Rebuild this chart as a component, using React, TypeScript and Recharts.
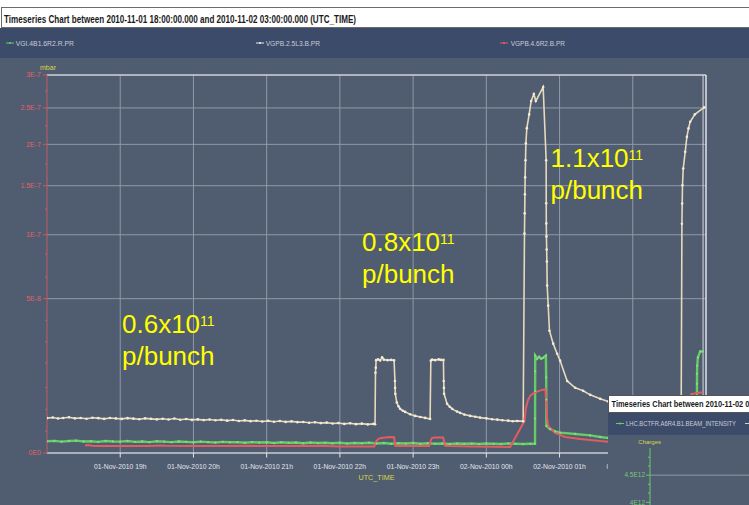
import React from 'react';
import { LineChart, Line, XAxis, YAxis, CartesianGrid, ReferenceLine } from 'recharts';

const FONT = '"Liberation Sans", Arial, sans-serif';
const SLATE = '#505c70';
const BAND = '#3d4b6a';
const CREAM = '#e6dabd';
const CREAM_DOT = '#f2ead6';
const GREEN = '#66cc66';
const RED = '#e25c62';
const AXIS_RED = '#c45a66';
const LABEL_RED = '#e2606a';
const YELLOW = '#ffff00';
const AXIS_YELLOW = '#d6d84a';
const GRID = '#8f99a9';

// ---- series names ----
const seriesNames = ['VGI.4B1.6R2.R.PR', 'VGPB.2.5L3.B.PR', 'VGPB.4.6R2.B.PR'];

// ---- data: [hour since 2010-11-01 00:00, pressure in 1e-9 mbar] ----
const vgpb25Points: [number, number][] = [
  [18.0, 2.56], [18.08, 2.64], [18.15, 2.5], [18.22, 2.58], [18.3, 2.68], [18.38, 2.52], [18.46, 2.57],
  [18.54, 2.47], [18.62, 2.6], [18.7, 2.55], [18.78, 2.45], [18.86, 2.58], [18.94, 2.51], [19.02, 2.44],
  [19.1, 2.55], [19.18, 2.48], [19.26, 2.4], [19.34, 2.52], [19.42, 2.45], [19.5, 2.38], [19.58, 2.47],
  [19.66, 2.36], [19.74, 2.5], [19.82, 2.33], [19.9, 2.42], [19.98, 2.3], [20.06, 2.37], [20.14, 2.27],
  [20.22, 2.35], [20.3, 2.25], [20.38, 2.31], [20.46, 2.2], [20.54, 2.28], [20.62, 2.16], [20.7, 2.24],
  [20.78, 2.13], [20.86, 2.19], [20.94, 2.09], [21.02, 2.17], [21.1, 2.06], [21.18, 2.14], [21.26, 2.03],
  [21.34, 2.1], [21.42, 2.0], [21.5, 2.02], [21.58, 1.93], [21.66, 1.99], [21.74, 1.88], [21.82, 1.94],
  [21.9, 1.83], [21.98, 1.88], [22.06, 1.78], [22.14, 1.85], [22.22, 1.75], [22.3, 1.81], [22.38, 1.72],
  [22.46, 1.78], [22.48, 1.74],
  [22.486, 13.5], [22.49, 15.3], [22.495, 18.1], [22.52, 18.4], [22.55, 18.0], [22.577, 19.2], [22.6, 18.3],
  [22.65, 18.1], [22.7, 18.2], [22.74, 18.0], [22.752, 10.9], [22.754, 8.9], [22.757, 7.35], [22.777, 5.34],
  [22.8, 4.6], [22.822, 4.09], [22.86, 3.75], [22.891, 3.55], [22.96, 3.15], [23.027, 2.89], [23.1, 2.72],
  [23.164, 2.59], [23.232, 2.44],
  [23.242, 17.9], [23.26, 18.3], [23.3, 18.1], [23.35, 18.4], [23.38, 18.2], [23.414, 18.2], [23.418, 10.9],
  [23.421, 8.9], [23.423, 7.35], [23.464, 5.07], [23.5, 4.5], [23.533, 4.09], [23.6, 3.6], [23.642, 3.38],
  [23.7, 3.1], [23.779, 2.89], [23.85, 2.75], [23.915, 2.63], [24.0, 2.52], [24.08, 2.4], [24.15, 2.34],
  [24.22, 2.26], [24.3, 2.2], [24.36, 2.12], [24.42, 2.16], [24.503, 2.1],
  [24.521, 101.2], [24.524, 120.6], [24.527, 140.5], [24.53, 159.6], [24.535, 180.0], [24.54, 201.5],
  [24.553, 221.6], [24.585, 240.7], [24.612, 260.1], [24.649, 270.5], [24.676, 260.1], [24.776, 281.2],
  [24.817, 180.0], [24.818, 130.9], [24.819, 110.7], [24.821, 98.5], [24.824, 87.0], [24.827, 77.0],
  [24.831, 58.9], [24.845, 45.6], [24.862, 31.4], [24.913, 25.1], [24.967, 20.7], [25.008, 17.9],
  [25.104, 10.9], [25.213, 8.92], [25.322, 8.11], [25.418, 7.1], [25.555, 6.16], [25.664, 5.56],
  [26.101, 4.27], [26.511, 3.72], [26.661, 3.55],
  [26.671, 110.4], [26.675, 130.6], [26.679, 150.5], [26.689, 169.9], [26.716, 190.4], [26.739, 209.8],
  [26.761, 221.2], [26.784, 230.3], [26.848, 240.7], [26.975, 250.8],
];

const vgi4b1Points: [number, number][] = [
  [18.0, 0.29], [18.1, 0.31], [18.2, 0.27], [18.3, 0.3], [18.4, 0.32], [18.5, 0.28], [18.6, 0.29],
  [18.7, 0.26], [18.8, 0.3], [18.9, 0.28], [19.0, 0.27], [19.1, 0.3], [19.2, 0.26], [19.3, 0.28],
  [19.4, 0.25], [19.5, 0.29], [19.6, 0.27], [19.7, 0.25], [19.8, 0.28], [19.9, 0.26], [20.0, 0.24],
  [20.1, 0.27], [20.2, 0.25], [20.3, 0.23], [20.4, 0.26], [20.5, 0.24], [20.6, 0.25], [20.7, 0.22],
  [20.8, 0.25], [20.9, 0.23], [21.0, 0.24], [21.1, 0.21], [21.2, 0.24], [21.3, 0.22], [21.4, 0.23],
  [21.5, 0.2], [21.6, 0.23], [21.7, 0.21], [21.8, 0.22], [21.9, 0.2], [22.0, 0.22], [22.1, 0.19],
  [22.2, 0.21], [22.3, 0.2], [22.4, 0.22], [22.5, 0.19], [22.6, 0.21], [22.7, 0.18], [22.8, 0.2],
  [22.9, 0.19], [23.0, 0.21], [23.1, 0.18], [23.2, 0.2], [23.3, 0.18], [23.4, 0.19], [23.5, 0.17],
  [23.6, 0.19], [23.7, 0.18], [23.8, 0.19], [23.9, 0.17], [24.0, 0.19], [24.1, 0.18], [24.2, 0.17],
  [24.3, 0.19], [24.4, 0.18], [24.5, 0.17], [24.6, 0.18], [24.665, 0.18],
  [24.666, 2.5], [24.6665, 8.0], [24.667, 14.0], [24.6675, 19.9], [24.694, 18.65], [24.721, 19.45],
  [24.749, 18.65], [24.776, 19.05], [24.813, 19.9], [24.817, 12.0], [24.819, 6.0], [24.821, 1.54],
  [24.872, 1.19], [24.94, 0.98], [25.008, 0.87], [25.213, 0.76], [25.418, 0.65], [25.555, 0.54],
  [25.664, 0.475], [26.101, 0.385], [26.511, 0.357], [26.852, 0.357], [26.874, 3.5], [26.876, 6.45],
  [26.877, 10.05], [26.878, 13.17], [26.88, 15.98], [26.889, 19.17], [26.921, 21.66], [26.958, 21.66],
];

const vgpb46Points: [number, number][] = [
  [18.519, 0.12], [18.56, 0.13], [18.615, 0.11], [18.7, 0.1], [19.0, 0.1], [19.4, 0.1], [19.55, 0.12],
  [19.62, 0.11], [20.0, 0.1], [20.5, 0.1], [20.75, 0.11], [20.9, 0.1], [21.2, 0.1], [21.5, 0.11],
  [21.8, 0.1], [22.0, 0.09], [22.3, 0.09], [22.47, 0.09], [22.49, 0.25], [22.52, 0.4], [22.55, 0.46],
  [22.62, 0.5], [22.69, 0.54], [22.74, 0.52], [22.755, 0.11], [22.8, 0.1], [23.0, 0.1], [23.22, 0.1],
  [23.242, 0.35], [23.26, 0.48], [23.3, 0.5], [23.41, 0.5], [23.437, 0.11], [23.5, 0.1], [23.8, 0.09],
  [24.1, 0.08], [24.325, 0.076], [24.521, 2.16], [24.54, 4.27], [24.57, 5.93], [24.6, 6.86], [24.65, 7.6],
  [24.72, 8.11], [24.807, 8.56], [24.831, 2.44], [24.845, 1.54], [24.94, 0.84], [25.077, 0.54],
  [25.281, 0.41], [25.555, 0.3], [25.664, 0.27], [26.1, 0.24], [26.6, 0.22], [26.78, 0.22], [26.8, 7.27],
  [26.83, 7.4], [26.92, 7.67], [26.96, 7.7],
];

// ---- axes ----
const hourTicks = [19, 20, 21, 22, 23, 24, 25, 26, 27];
const hourLabels = [
  '01-Nov-2010 19h', '01-Nov-2010 20h', '01-Nov-2010 21h', '01-Nov-2010 22h', '01-Nov-2010 23h',
  '02-Nov-2010 00h', '02-Nov-2010 01h', '02-Nov-2010 02h', '02-Nov-2010 03h',
];
const yMajorTicks = [0, 5e-8, 1e-7, 1.5e-7, 2e-7, 2.5e-7, 3e-7];
const yMajorLabels = ['0E0', '5E-8', '1E-7', '1.5E-7', '2E-7', '2.5E-7', '3E-7'];
const yMinorTicks = [1e-9, 4e-9, 9e-9, 1.7e-8, 2.6e-8, 3.7e-8, 6.5e-8, 8.3e-8, 1.25e-7, 1.75e-7, 2.25e-7, 2.75e-7];
const yAllTicks = [...yMajorTicks, ...yMinorTicks].sort((a, b) => a - b);

const insetMajorTicks = [4e12, 4.5e12];
const insetMajorLabels = ['4E12', '4.5E12'];
const insetMinorTicks = [4.17e12, 4.33e12, 4.67e12, 4.83e12];
const insetAllTicks = [...insetMajorTicks, ...insetMinorTicks].sort((a, b) => a - b);

const toRows = (pts: [number, number][]) => pts.map(([t, v]) => ({ t, v: v * 1e-9 }));
const creamRows = toRows(vgpb25Points);
const greenRows = toRows(vgi4b1Points);
const redRows = toRows(vgpb46Points);

const YTick = (props: any) => {
  const { x, y, payload } = props;
  const i = yMajorTicks.indexOf(payload.value);
  const major = i >= 0;
  return (
    <g>
      <line x1={x - (major ? 4 : 2)} y1={y} x2={x} y2={y} stroke={AXIS_RED} strokeWidth={1} />
      {major && (
        <text x={x - 6} y={y} dy="0.35em" textAnchor="end" fill={LABEL_RED} fontSize={7} fontFamily={FONT}>
          {yMajorLabels[i]}
        </text>
      )}
    </g>
  );
};

const InsetTick = (props: any) => {
  const { x, y, payload } = props;
  const i = insetMajorTicks.indexOf(payload.value);
  const major = i >= 0;
  return (
    <g>
      <line x1={x - (major ? 4 : 2)} y1={y} x2={x} y2={y} stroke={GREEN} strokeWidth={1} />
      {major && (
        <text x={x - 5} y={y} dy="0.35em" textAnchor="end" fill="#78c878" fontSize={6.5} fontFamily={FONT}>
          {insetMajorLabels[i]}
        </text>
      )}
    </g>
  );
};

const LegendMark = ({ x, y, color }: { x: number; y: number; color: string }) => (
  <g>
    <line x1={x} y1={y} x2={x + 8} y2={y} stroke={color} strokeWidth={1} />
    <circle cx={x + 4} cy={y} r={1.1} fill={color} />
  </g>
);

const Annotation = ({ x, y, base }: { x: number; y: number; base: string }) => (
  <g fontFamily={FONT} fill={YELLOW}>
    <text x={x} y={y} fontSize={26}>
      {base}
      <tspan fontSize={14} dy={-7.5}>11</tspan>
    </text>
    <text x={x} y={y + 31.5} fontSize={26}>p/bunch</text>
  </g>
);

export default function App() {
  return (
    <div style={{ position: 'absolute', left: 0, top: 0, width: 749, height: 505, overflow: 'hidden', background: SLATE }}>
      <div style={{ position: 'absolute', left: 0, top: 0 }}>
        <LineChart width={749} height={505} margin={{ top: 75, right: 43, bottom: 22, left: 0 }}>
          <CartesianGrid
            xAxisId="b"
            yAxisId="l"
            stroke={GRID}
            strokeWidth={1}
            horizontalValues={yMajorTicks}
            verticalValues={hourTicks}
          />
          <XAxis
            xAxisId="b"
            dataKey="t"
            type="number"
            domain={[18, 27]}
            allowDataOverflow
            ticks={hourTicks}
            interval={0}
            tickFormatter={(v: number) => hourLabels[hourTicks.indexOf(v)] ?? ''}
            height={30}
            stroke="#e6e6e6"
            tickSize={4.5}
            tickMargin={7}
            tick={{ fill: '#e2e6ee', fontSize: 6.8, fontFamily: FONT }}
            label={{ value: 'UTC_TIME', position: 'insideBottom', offset: 3, fill: AXIS_YELLOW, fontSize: 7.2, fontFamily: FONT }}
          />
          <YAxis
            yAxisId="l"
            type="number"
            scale="sqrt"
            domain={[0, 3e-7]}
            allowDataOverflow
            ticks={yAllTicks}
            interval={0}
            tick={<YTick />}
            tickLine={false}
            tickSize={0}
            tickMargin={0}
            axisLine={{ stroke: AXIS_RED }}
            width={47}
          />
          <ReferenceLine xAxisId="b" yAxisId="l" y={3e-7} stroke="#f0f0f0" strokeWidth={1.2} />
          <ReferenceLine xAxisId="b" yAxisId="l" x={27} stroke="#f0f0f0" strokeWidth={1.2} />
          <ReferenceLine xAxisId="b" yAxisId="l" x={26.96} stroke="#d8d8d8" strokeWidth={1} />
          <Line
            xAxisId="b"
            yAxisId="l"
            data={greenRows}
            dataKey="v"
            name={seriesNames[0]}
            type="linear"
            stroke={GREEN}
            strokeWidth={2.4}
            dot={{ r: 1.1, fill: '#84e084', stroke: 'none' }}
            isAnimationActive={false}
          />
          <Line
            xAxisId="b"
            yAxisId="l"
            data={creamRows}
            dataKey="v"
            name={seriesNames[1]}
            type="linear"
            stroke={CREAM}
            strokeWidth={1.6}
            dot={{ r: 1.3, fill: CREAM_DOT, stroke: 'none' }}
            isAnimationActive={false}
          />
          <Line
            xAxisId="b"
            yAxisId="l"
            data={redRows}
            dataKey="v"
            name={seriesNames[2]}
            type="linear"
            stroke={RED}
            strokeWidth={2}
            dot={false}
            isAnimationActive={false}
          />
        </LineChart>
      </div>

      <svg width={749} height={505} style={{ position: 'absolute', left: 0, top: 0, pointerEvents: 'none' }}>
        <rect x={0} y={0} width={749} height={28} fill="#ffffff" />
        <rect x={1.5} y={7.5} width={800} height={20} fill="#ffffff" stroke="#6a6a6a" strokeWidth={1} />
        <text x={4} y={23} fontSize={10} fontWeight="bold" fontFamily={FONT} fill="#1a1a1a" textLength={352} lengthAdjust="spacingAndGlyphs">
          Timeseries Chart between 2010-11-01 18:00:00.000 and 2010-11-02 03:00:00.000 (UTC_TIME)
        </text>
        <rect x={0} y={28} width={749} height={30} fill={BAND} />
        <LegendMark x={6} y={43} color={GREEN} />
        <text x={15.7} y={45.5} fontSize={7} fontFamily={FONT} fill="#c8ccd5" textLength={58.3} lengthAdjust="spacingAndGlyphs">{seriesNames[0]}</text>
        <LegendMark x={256} y={43} color="#e6e6e6" />
        <text x={265.7} y={45.5} fontSize={7} fontFamily={FONT} fill="#c8ccd5" textLength={54.3} lengthAdjust="spacingAndGlyphs">{seriesNames[1]}</text>
        <LegendMark x={500} y={43} color={RED} />
        <text x={510.7} y={45.5} fontSize={7} fontFamily={FONT} fill="#c8ccd5" textLength={54.3} lengthAdjust="spacingAndGlyphs">{seriesNames[2]}</text>
        <text x={48} y={70} textAnchor="middle" fontSize={7} fontFamily={FONT} fill={AXIS_YELLOW}>mbar</text>
        <Annotation x={122} y={333} base="0.6x10" />
        <Annotation x={362} y={251} base="0.8x10" />
        <Annotation x={550.5} y={167} base="1.1x10" />
      </svg>

      <div style={{ position: 'absolute', left: 608, top: 395, width: 141, height: 110, background: SLATE, overflow: 'hidden' }}>
        <svg width={141} height={40} style={{ position: 'absolute', left: 0, top: 0 }}>
          <rect x={0.5} y={0.5} width={200} height={17} fill="#ffffff" stroke="#555" strokeWidth={1} />
          <text x={3.5} y={12} fontSize={8.5} fontWeight="bold" fontFamily={FONT} fill="#1a1a1a" textLength={142} lengthAdjust="spacingAndGlyphs">
            Timeseries Chart between 2010-11-02 03
          </text>
          <rect x={0} y={18} width={141} height={22} fill={BAND} />
          <LegendMark x={8} y={28.5} color={GREEN} />
          <text x={18} y={30.7} fontSize={6.5} fontFamily={FONT} fill="#c8ccd5" textLength={110} lengthAdjust="spacingAndGlyphs">
            LHC.BCTFR.A6R4.B1.BEAM_INTENSITY
          </text>
          <line x1={137} y1={28.5} x2={145} y2={28.5} stroke="#d0d0d0" strokeWidth={1} />
        </svg>
        <svg width={141} height={20} style={{ position: 'absolute', left: 0, top: 40 }}>
          <text x={41.7} y={8.5} textAnchor="middle" fontSize={6} fontFamily={FONT} fill={AXIS_YELLOW}>Charges</text>
        </svg>
        <div style={{ position: 'absolute', left: 0, top: 40 }}>
          <LineChart width={141} height={70} margin={{ top: 13, right: 0, bottom: 0, left: 0 }}>
            <CartesianGrid xAxisId="x" yAxisId="c" stroke={GRID} horizontalValues={[4.5e12]} vertical={false} />
            <XAxis xAxisId="x" type="number" domain={[27, 36]} allowDataOverflow hide />
            <YAxis
              yAxisId="c"
              type="number"
              domain={[3.95e12, 5e12]}
              allowDataOverflow
              ticks={insetAllTicks}
              interval={0}
              tick={<InsetTick />}
              tickLine={false}
              tickSize={0}
              tickMargin={0}
              axisLine={{ stroke: GREEN }}
              width={42}
            />
            <ReferenceLine xAxisId="x" yAxisId="c" y={5e12} stroke="#f0f0f0" strokeWidth={1.2} />
          </LineChart>
        </div>
      </div>
    </div>
  );
}
